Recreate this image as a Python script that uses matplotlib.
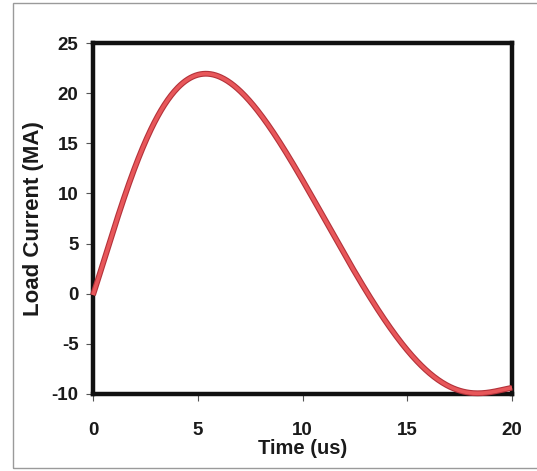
import matplotlib
matplotlib.use("Agg")
import matplotlib.pyplot as plt
from matplotlib.patches import Rectangle
import numpy as np

# Data
time_us = [0.0, 0.57, 1.05, 1.53, 2.08, 2.72, 3.44, 4.23, 4.95, 5.43, 6.22,
           7.02, 7.97, 8.93, 9.88, 10.9, 11.87, 12.74, 13.7, 14.65, 15.6,
           16.56, 17.5, 18.47, 19.27, 20.0]
load_current_MA = [0.0, 3.36, 6.7, 10.0, 13.3, 16.3, 18.65, 20.65, 21.8, 22.05, 21.6,
                   20.3, 18.0, 15.0, 11.5, 7.9, 4.6, 1.6, -1.95, -4.94, -7.1,
                   -8.6, -9.6, -9.93, -9.77, -9.35]
x_ticks = [0, 5, 10, 15, 20]
y_ticks = [-10, -5, 0, 5, 10, 15, 20, 25]

plt.rcParams['font.family'] = ['Liberation Sans', 'DejaVu Sans']
plt.rcParams['axes.unicode_minus'] = False

fig = plt.figure(figsize=(5.37, 4.71), dpi=100)
fig.patch.set_facecolor('white')
ax = fig.add_axes([93/537, 1-394/471, (512-93)/537, (394-43)/471])

# smooth least-squares curve through the read points
coef = np.polyfit(time_us, load_current_MA, 8)
xs = np.linspace(0, 20, 500)
ys = np.polyval(coef, xs)

ax.plot(xs, ys, color='#b3323a', lw=4.2, solid_capstyle='butt', zorder=3, clip_on=False)
ax.plot(xs, ys, color='#e8575a', lw=2.6, solid_capstyle='butt', zorder=4, clip_on=False)

ax.set_xlim(0, 20)
ax.set_ylim(-10, 25)
ax.set_xticks(x_ticks)
ax.set_yticks(y_ticks)
ax.tick_params(direction='out', length=5, width=0.8, color='#555555',
               labelsize=13.5)
ax.tick_params(axis='x', pad=15)
ax.tick_params(axis='y', pad=5.5)
for lab in ax.get_xticklabels() + ax.get_yticklabels():
    lab.set_fontweight('bold')
    lab.set_color('#1a1a1a')
for s in ax.spines.values():
    s.set_linewidth(3.2)
    s.set_color('#111111')

ax.set_xlabel('Time (us)', fontsize=14.5, fontweight='bold', labelpad=0, color='#1a1a1a')
ax.set_ylabel('Load Current (MA)', fontsize=16, fontweight='bold', labelpad=5, color='#1a1a1a')

fig.patches.append(Rectangle((13/537, 1-468/471), (545-13)/537, (468-3)/471,
                             transform=fig.transFigure, fill=False,
                             edgecolor='#9a9a9a', lw=1.0, zorder=0))

fig.savefig('out.png', dpi=100, facecolor='white')
